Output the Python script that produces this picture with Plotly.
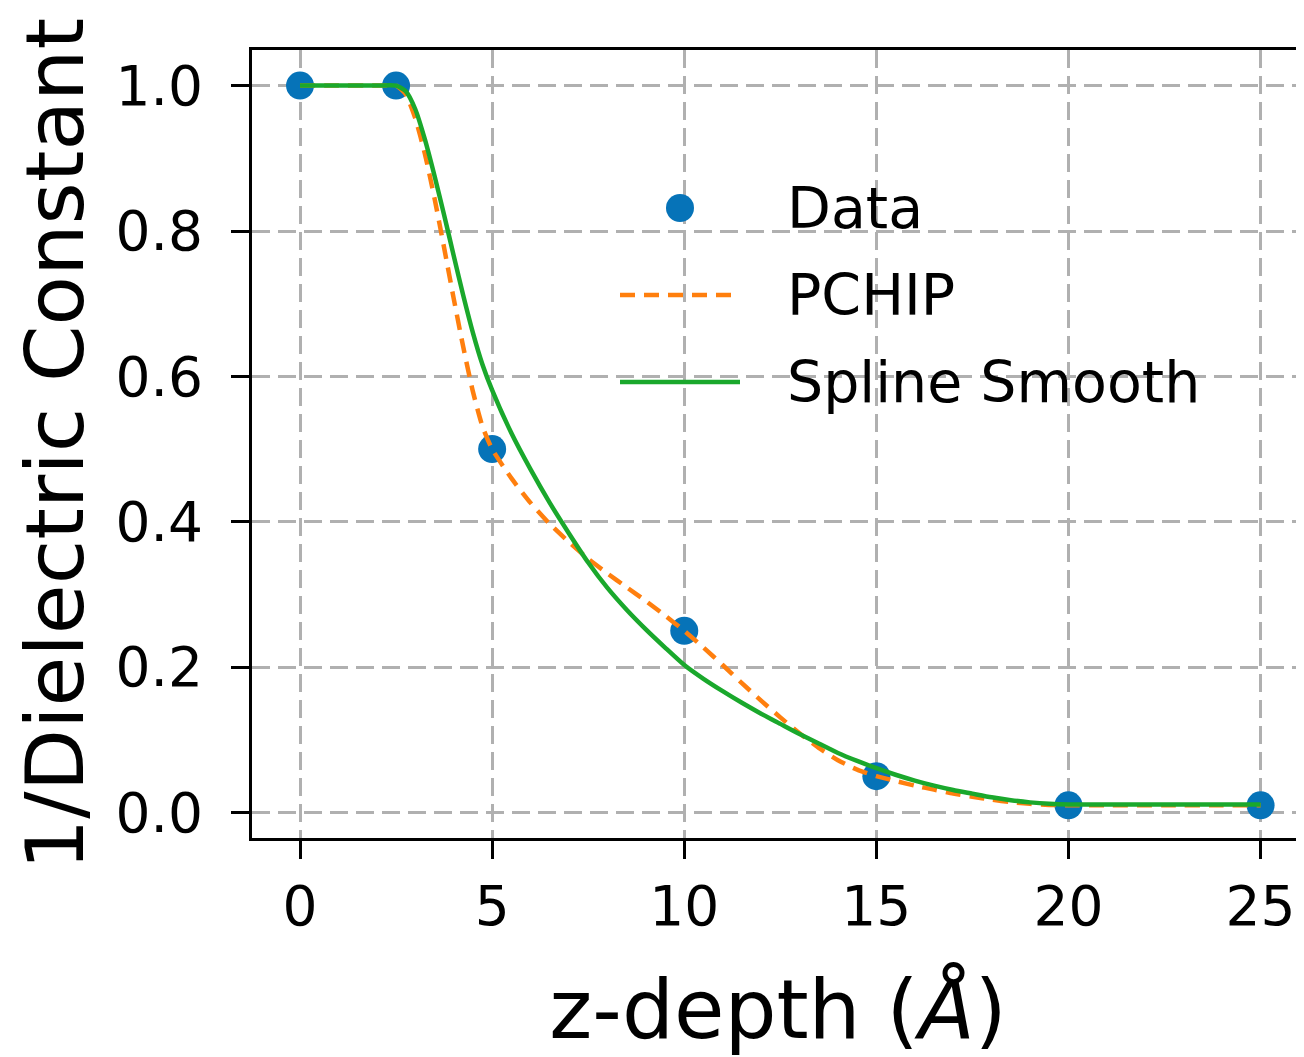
import plotly.graph_objects as go

# ---- data ----
data_x = [0, 2.5, 5, 10, 15, 20, 25]
data_y = [1.0, 1.0, 0.5, 0.25, 0.05, 0.01, 0.01]

pchip_x = [0, 1.0, 2.0, 2.5, 2.75, 3.0, 3.25, 3.5, 3.75, 4.0, 4.25, 4.5, 4.75, 5.0,
           5.5, 6.0, 6.5, 7.0, 7.5, 8.0, 8.5, 9.0, 9.5, 10.0,
           10.5, 11.0, 11.5, 12.0, 12.5, 13.0, 13.5, 14.0, 14.5, 15.0,
           15.5, 16.0, 16.5, 17.0, 17.5, 18.0, 18.5, 19.0, 19.5, 20.0,
           21.0, 22.5, 24.0, 25.0]
pchip_y = [1.0, 1.0, 1.0, 1.0, 0.988, 0.955, 0.906, 0.845, 0.777, 0.707, 0.640, 0.579, 0.531, 0.500,
           0.460, 0.426, 0.397, 0.372, 0.349, 0.329, 0.310, 0.291, 0.271, 0.250,
           0.227, 0.203, 0.178, 0.154, 0.131, 0.109, 0.089, 0.072, 0.059, 0.050,
           0.0435, 0.037, 0.0316, 0.026, 0.0217, 0.0177, 0.0144, 0.012, 0.0105, 0.010,
           0.010, 0.010, 0.010, 0.010]

spline_x = [0, 1.0, 2.0, 2.5, 2.75, 3.0, 3.25, 3.5, 3.75, 4.0, 4.25, 4.5, 4.75, 5.0,
            5.5, 6.0, 6.5, 7.0, 7.5, 8.0, 8.5, 9.0, 9.5, 10.0,
            10.5, 11.0, 11.5, 12.0, 12.5, 13.0, 13.5, 14.0, 14.5, 15.0,
            15.5, 16.0, 16.5, 17.0, 17.5, 18.0, 18.5, 19.0, 19.5, 20.0,
            21.0, 22.5, 24.0, 25.0]
spline_y = [1.0, 1.0, 1.0, 1.0, 0.9925, 0.9675, 0.926, 0.876, 0.822, 0.766, 0.711, 0.660, 0.616, 0.581,
            0.522, 0.472, 0.426, 0.384, 0.344, 0.309, 0.279, 0.252, 0.227, 0.203,
            0.184, 0.167, 0.151, 0.136, 0.122, 0.108, 0.095, 0.082, 0.071, 0.061,
            0.052, 0.044, 0.037, 0.031, 0.026, 0.021, 0.017, 0.014, 0.012, 0.011,
            0.011, 0.011, 0.011, 0.011]

x_ticks = [0, 5, 10, 15, 20, 25]
y_ticks = [0.0, 0.2, 0.4, 0.6, 0.8, 1.0]
y_ticktext = ["0.0", "0.2", "0.4", "0.6", "0.8", "1.0"]

legend_labels = ["Data", "PCHIP", "Spline Smooth"]
x_title = "z-depth (<i>Å</i>)"
y_title = "1/Dielectric Constant"

BLUE = "#0673B8"
ORANGE = "#FF7F0E"
GREEN = "#1AA82C"
FONT = "DejaVu Sans"

fig = go.Figure()
fig.add_trace(go.Scatter(x=data_x, y=data_y, mode="markers", name="Data",
                         marker=dict(color=BLUE, size=28, line=dict(width=0))))
fig.add_trace(go.Scatter(x=pchip_x, y=pchip_y, mode="lines", name="PCHIP",
                         line=dict(color=ORANGE, width=4.5, dash="15px,9px",
                                   shape="spline", smoothing=0.6)))
fig.add_trace(go.Scatter(x=spline_x, y=spline_y, mode="lines", name="Spline Smooth",
                         line=dict(color=GREEN, width=4.5, shape="spline", smoothing=0.6)))

# ---- page geometry (the page body adds an 8 px offset) ----
OFF = 8
W, H = 1304 - OFF, 1057 - OFF
L_PX, T_PX, R_PX, B_PX = 252, 50, 1304, 838   # plot-area edges in page pixels


def px_x(px):
    return (px - L_PX) / (R_PX - L_PX)


def px_y(py):
    return (B_PX - py) / (B_PX - T_PX)


# ---- manual legend (matplotlib-style, frameless) ----
rows = [208, 295, 382]
shapes = [
    dict(type="circle", xref="paper", yref="paper",
         xsizemode="pixel", ysizemode="pixel",
         xanchor=px_x(680), yanchor=px_y(rows[0]),
         x0=-14, x1=14, y0=-14, y1=14,
         fillcolor=BLUE, line=dict(width=0), layer="above"),
    dict(type="line", xref="paper", yref="paper",
         x0=px_x(620), x1=px_x(740), y0=px_y(rows[1]), y1=px_y(rows[1]),
         line=dict(color=ORANGE, width=4.5, dash="15px,9px"), layer="above"),
    dict(type="line", xref="paper", yref="paper",
         x0=px_x(620), x1=px_x(740), y0=px_y(rows[2]), y1=px_y(rows[2]),
         line=dict(color=GREEN, width=4.5), layer="above"),
]
annotations = [
    dict(text=lab, xref="paper", yref="paper",
         x=px_x(785), y=px_y(r), xanchor="left", yanchor="middle",
         showarrow=False, font=dict(family=FONT, size=57, color="black"))
    for lab, r in zip(legend_labels, rows)
]

grid = dict(showgrid=True, gridcolor="#b0b0b0", gridwidth=2.5, griddash="18px,8px")

fig.update_layout(
    width=W, height=H,
    margin=dict(l=L_PX - OFF, r=0, t=T_PX - OFF, b=H - (B_PX - OFF), pad=0),
    paper_bgcolor="white", plot_bgcolor="white",
    showlegend=False,
    font=dict(family=FONT, color="black"),
    shapes=shapes, annotations=annotations,
    xaxis=dict(range=[-1.25, 26.13], tickvals=x_ticks, zeroline=False,
               showline=True, linecolor="black", linewidth=3, mirror=True,
               ticks="outside", ticklen=18, tickwidth=3, tickcolor="black",
               tickfont=dict(family=FONT, size=55, color="black"),
               title=dict(text=x_title,
                          font=dict(family=FONT, size=82, color="black"),
                          standoff=44),
               **grid),
    yaxis=dict(range=[-0.035, 1.049], tickvals=y_ticks, ticktext=y_ticktext, zeroline=False,
               showline=True, linecolor="black", linewidth=3, mirror=False,
               ticks="outside", ticklen=18, tickwidth=3, tickcolor="black",
               ticklabelstandoff=17,
               tickfont=dict(family=FONT, size=55, color="black"),
               title=dict(text=y_title,
                          font=dict(family=FONT, size=81, color="black"),
                          standoff=27),
               **grid),
)

fig.write_html("out.html")
